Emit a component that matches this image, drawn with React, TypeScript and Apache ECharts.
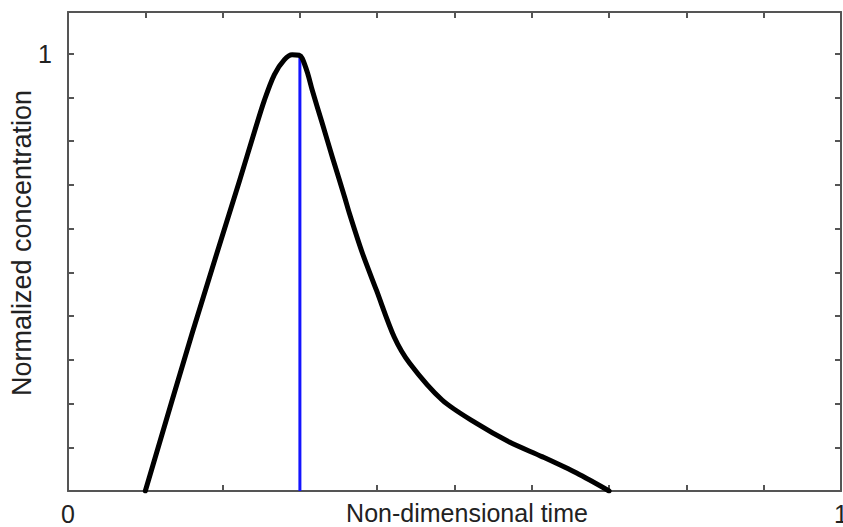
import React, { useEffect, useRef } from "react";
import * as echarts from "echarts";

const curveT = [0.1, 0.161, 0.222, 0.241, 0.254, 0.267, 0.28, 0.29, 0.299, 0.303, 0.31, 0.316, 0.329, 0.342, 0.358, 0.364, 0.381, 0.399, 0.422, 0.442, 0.484, 0.528, 0.571, 0.614, 0.658, 0.7];
const curveC = [0, 0.363, 0.71, 0.82, 0.893, 0.952, 0.986, 0.997, 0.996, 0.989, 0.955, 0.916, 0.84, 0.763, 0.671, 0.635, 0.543, 0.459, 0.352, 0.292, 0.208, 0.155, 0.112, 0.078, 0.041, 0];
const peakT = [0.3, 0.3];
const peakC = [0, 0.995];
const xTickLabels = ["0", "1"];
const yTickLabels = ["1"];
const xName = "Non-dimensional time";
const yName = "Normalized concentration";

const FONT = "Liberation Sans";
const AXIS_COLOR = "#555";
const TEXT_COLOR = "#222";

export default function App() {
  const ref = useRef<HTMLDivElement>(null);
  useEffect(() => {
    if (!ref.current) return;
    const chart = echarts.init(ref.current, undefined, { renderer: "svg" });
    const axisLine = { show: true, onZero: false, lineStyle: { color: AXIS_COLOR, width: 2 } };
    const axisTick = { show: true, inside: true, length: 6, lineStyle: { color: AXIS_COLOR, width: 2 } };
    const near = (a: number, b: number) => Math.abs(a - b) < 1e-9;
    chart.setOption({
      animation: false,
      backgroundColor: "#fff",
      grid: { left: 68, right: 2, top: 12, bottom: 36, containLabel: false, outerBoundsMode: "none" },
      graphic: [
        {
          type: "text",
          x: 467,
          y: 500,
          style: {
            text: xName,
            fontFamily: FONT,
            fontSize: 25,
            fill: TEXT_COLOR,
            align: "center",
            verticalAlign: "top",
          },
        },
        {
          type: "text",
          x: 22,
          y: 243,
          rotation: Math.PI / 2,
          style: {
            text: yName,
            fontFamily: FONT,
            fontSize: 27,
            fill: TEXT_COLOR,
            align: "center",
            verticalAlign: "middle",
          },
        },
      ],
      xAxis: [
        {
          type: "value",
          min: 0,
          max: 1,
          interval: 0.1,
          position: "bottom",
          axisLine,
          axisTick,
          splitLine: { show: false },
          axisLabel: {
            show: true,
            margin: 10,
            fontFamily: FONT,
            fontSize: 25,
            color: TEXT_COLOR,
            showMinLabel: true,
            showMaxLabel: true,
            hideOverlap: false,
            formatter: (v: number) => (near(v, 0) ? xTickLabels[0] : near(v, 1) ? xTickLabels[1] : ""),
          },
        },
        {
          type: "value",
          min: 0,
          max: 1,
          interval: 0.1,
          position: "top",
          axisLine,
          axisTick,
          splitLine: { show: false },
          axisLabel: { show: false },
        },
      ],
      yAxis: [
        {
          type: "value",
          min: 0,
          max: 1.095,
          interval: 0.1,
          position: "left",
          axisLine,
          axisTick,
          splitLine: { show: false },
          axisLabel: {
            show: true,
            margin: 16,
            fontFamily: FONT,
            fontSize: 25,
            color: TEXT_COLOR,
            formatter: (v: number) => (near(v, 1) ? yTickLabels[0] : ""),
          },
        },
        {
          type: "value",
          min: 0,
          max: 1.095,
          interval: 0.1,
          position: "right",
          axisLine,
          axisTick,
          splitLine: { show: false },
          axisLabel: { show: false },
        },
      ],
      series: [
        {
          type: "line",
          data: peakT.map((t, i) => [t, peakC[i]]),
          showSymbol: false,
          lineStyle: { color: "#1414ff", width: 3 },
          z: 2,
        },
        {
          type: "line",
          data: curveT.map((t, i) => [t, curveC[i]]),
          showSymbol: false,
          smooth: 0.3,
          lineStyle: { color: "#000", width: 5, cap: "round", join: "round" },
          z: 3,
        },
      ],
    });
    return () => chart.dispose();
  }, []);
  return <div ref={ref} style={{ width: 843, height: 527, position: "absolute", left: 0, top: 0 }} />;
}
